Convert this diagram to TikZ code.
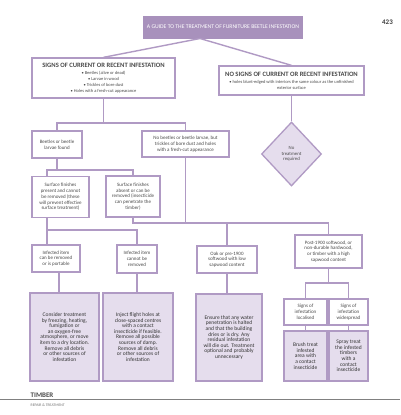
\documentclass[tikz,border=0pt]{standalone}
\usepackage{fontspec}
\setmainfont{Carlito}
\usetikzlibrary{shapes.geometric}
\definecolor{lav}{HTML}{B09AC4}
\definecolor{titlefill}{HTML}{A891BC}
\definecolor{palefill}{HTML}{E5DDED}
\definecolor{txt}{HTML}{4A4A4A}
\definecolor{txtd}{HTML}{333333}
\begin{document}
\begin{tikzpicture}[x=1pt,y=-1pt,
  sz/.style 2 args={minimum width=#1pt,minimum height=#2pt},
  box/.style={draw=lav,line width=1.3pt,fill=white,align=center,inner sep=0pt,text=txt,font=\fontsize{5}{5.8}\selectfont},
  act/.style={draw=lav,line width=2.2pt,fill=palefill,align=center,inner sep=0pt,text=txtd,font=\fontsize{5.5}{5.6}\selectfont},
  ln/.style={draw=lav,line width=1.4pt}
]
\useasboundingbox[fill=white] (0,0) rectangle (400,415);

% title and page number
\node[fill=titlefill,text=white,inner sep=0pt,sz={160}{23},font=\fontsize{5.7}{6.5}\selectfont] (title) at (223,27) {A GUIDE TO THE TREATMENT OF FURNITURE BEETLE INFESTATION};
\node[anchor=base east,inner sep=0pt,font=\fontsize{7}{8}\selectfont\bfseries,text=black!75] (pg) at (393,24) {423};

% top boxes
\node[box,sz={143}{40}] (sig) at (103.5,78) {{\fontsize{6.6}{7.2}\selectfont\bfseries SIGNS OF CURRENT OR RECENT INFESTATION}\\[1.2pt]
{\fontsize{4.5}{4.6}\selectfont • Beetles (alive or dead)}\\
{\fontsize{4.5}{4.6}\selectfont • Larvae in wood}\\
{\fontsize{4.5}{4.6}\selectfont • Trickles of bore dust}\\
{\fontsize{4.5}{4.6}\selectfont • Holes with a fresh-cut appearance}};
\node[box,sz={145}{29}] (nosig) at (291.5,80.5) {{\fontsize{6.6}{7.2}\selectfont\bfseries NO SIGNS OF CURRENT OR RECENT INFESTATION}\\[1.2pt]
{\fontsize{4.5}{4.8}\selectfont • holes blunt-edged with interiors the same colour as the unfinished}\\
{\fontsize{4.5}{4.8}\selectfont exterior surface}};
\node[diamond,draw=lav,line width=1.3pt,fill=palefill,inner sep=0pt,sz={60}{64},align=center,text=txt,font=\fontsize{4.8}{5.6}\selectfont] (dia) at (291.5,154) {No\\treatment\\required};

% second row
\node[box,sz={50}{27}] (beetle) at (57,144.5) {Beetles or beetle\\larvae found};
\node[box,sz={87}{26}] (nob) at (185.5,144) {No beetles or beetle larvae, but\\trickles of bore dust and holes\\with a fresh-cut appearance};

% third row
\node[box,sz={57}{41}] (pres) at (60.5,197) {Surface finishes\\present and cannot\\be removed (these\\will prevent effective\\surface treatment)};
\node[box,sz={54}{41}] (abs) at (133,196.5) {Surface finishes\\absent or can be\\removed (insecticide\\can penetrate the\\timber)};

% fourth row
\node[box,sz={48}{27}] (infR) at (56,258.5) {Infected item\\can be removed\\or is portable};
\node[box,sz={40}{28}] (infC) at (137,259) {Infected item\\cannot be\\removed};
\node[box,sz={60}{27}] (oak) at (227,259.5) {Oak or pre-1900\\softwood with low\\sapwood content};
\node[box,sz={67}{33}] (post) at (328.5,251.5) {Post-1900 softwood, or\\non-durable hardwood,\\or timber with a high\\sapwood content};
\node[box,sz={43}{26}] (loc) at (305.5,312) {Signs of\\infestation\\localised};
\node[box,sz={39}{26}] (wide) at (348.5,312) {Signs of\\infestation\\widespread};

% action boxes
\node[act,sz={69}{88}] (cons) at (64.5,337) {Consider treatment\\by freezing, heating,\\fumigation or\\an oxygen-free\\atmosphere, or move\\item to a dry location.\\Remove all debris\\or other sources of\\infestation};
\node[act,sz={70}{88}] (inj) at (138,337) {Inject flight holes at\\close-spaced centres\\with a contact\\insecticide if feasible.\\Remove all possible\\sources of damp.\\Remove all debris\\or other sources of\\infestation};
\node[act,sz={66}{87}] (ens) at (229,337.5) {Ensure that any water\\penetration is halted\\and that the building\\dries or is dry. Any\\residual infestation\\will die out. Treatment\\optional and probably\\unnecessary};
\node[act,sz={43}{50}] (brush) at (305.5,356) {Brush treat\\infested\\area with\\a contact\\insecticide};
\node[act,sz={39}{50}] (spray) at (348.5,356) {Spray treat\\the infested\\timbers\\with a\\contact\\insecticide};

% branch levels
\coordinate (tj) at (200,38.5);
\coordinate (L1) at (0,123);
\coordinate (L2) at (0,170);
\coordinate (L3) at (0,230);
\coordinate (L4) at (0,223);
\coordinate (L5) at (0,283);

% connectors
\draw[ln] (sig.north) -- (tj) -- (nosig.north);
\draw[ln] (nosig.south) -- (dia.north);
\draw[ln] (sig.south) -- (sig.south |- L1);
\draw[ln] (beetle.north) -- (beetle.north |- L1) -- (nob.north |- L1) -- (nob.north);
\draw[ln] (beetle.south) -- (beetle.south |- L2);
\draw[ln] ([xshift=-13.5pt]pres.north) -- ([xshift=-13.5pt]pres.north |- L2) -- (abs.north |- L2) -- (abs.north);
\draw[ln] ([xshift=-13.5pt]pres.south) -- ([xshift=-13.5pt]pres.south |- infR.north);
\draw[ln] ([xshift=-13.5pt]pres.south |- L3) -- (infC.north |- L3) -- (infC.north);
\draw[ln] (abs.south) -- (abs.south |- L4) -- (post.north |- L4) -- (post.north);
\draw[ln] (nob.south) -- (nob.south |- L4);
\draw[ln] (oak.north |- L4) -- (oak.north);
\draw[ln] ([xshift=3pt]infR.south) -- ([xshift=3pt]infR.south |- cons.north);
\draw[ln] (infC.south) -- (infC.south |- inj.north);
\draw[ln] (oak.south) -- (oak.south |- ens.north);
\draw[ln] (post.south) -- (post.south |- L5);
\draw[ln] (loc.north) -- (loc.north |- L5) -- (wide.north |- L5) -- (wide.north);
\draw[ln] (loc.south) -- (brush.north);
\draw[ln] (wide.south) -- (spray.north);

% footer
\coordinate (fl) at (0,399.5);
\coordinate (fr) at (400,399.5);
\draw[draw=black!50,line width=0.9pt] (fl) -- (fr);
\node[anchor=base west,inner sep=0pt,font=\fontsize{7}{8}\selectfont\bfseries,text=black!70] (timber) at (30.5,397.5) {TIMBER};
\node[anchor=base west,inner sep=0pt,font=\fontsize{3.8}{4.5}\selectfont,text=black!55] (rt) at (30.5,406) {REPAIR \& TREATMENT};
\end{tikzpicture}
\end{document}
